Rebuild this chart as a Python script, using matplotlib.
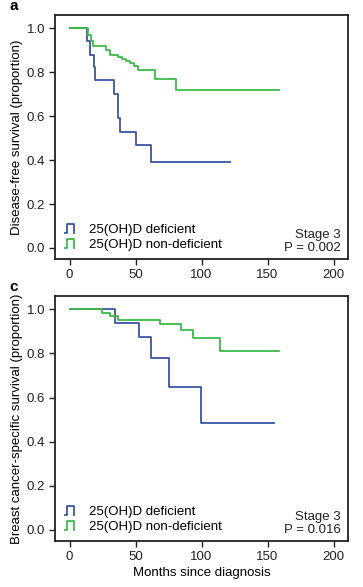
import numpy as np
import matplotlib
matplotlib.use('Agg')
import matplotlib.pyplot as plt
from matplotlib.lines import Line2D
from matplotlib.legend_handler import HandlerBase

plt.rcParams['font.family'] = ['Liberation Sans', 'DejaVu Sans']

BLUE = '#3c55a5'
GREEN = '#3dba4a'

# panel a: disease-free survival (step times in months, survival after step)
a_def_t = [0, 13.2, 15.7, 18.4, 19.5, 34, 36.7, 38, 50.7, 62, 121.7]
a_def_s = [1.0, 0.94, 0.88, 0.825, 0.765, 0.70, 0.59, 0.527, 0.47, 0.39, 0.39]
a_non_t = [0, 14, 16, 18, 28, 31, 37, 40, 43, 46, 49, 52, 65, 81, 158.5]
a_non_s = [1.0, 0.97, 0.94, 0.92, 0.90, 0.88, 0.87, 0.86, 0.85, 0.84, 0.83, 0.81, 0.77, 0.72, 0.72]

# panel c: breast cancer-specific survival
c_def_t = [0, 34.2, 52.7, 62, 75.3, 99.4, 154.6]
c_def_s = [1.0, 0.94, 0.874, 0.777, 0.649, 0.486, 0.486]
c_non_t = [0, 24.8, 30.4, 36.7, 68.4, 84.2, 93.3, 114, 158.5]
c_non_s = [1.0, 0.983, 0.968, 0.953, 0.935, 0.908, 0.871, 0.809, 0.809]

legend_labels = ['25(OH)D deficient', '25(OH)D non-deficient']
x_ticks = [0, 50, 100, 150, 200]
y_ticks = [0.0, 0.2, 0.4, 0.6, 0.8, 1.0]

FS = 9.5


class StepHandler(HandlerBase):
    # little step glyph like the R legend
    def create_artists(self, legend, orig_handle, x0, y0, width, height, fontsize, trans):
        xa, xb, xc = x0 + width * 0.22, x0 + width * 0.32, x0 + width * 0.58
        xs = [xa, xb, xb, xc, xc]
        ys = [y0, y0, y0 + height * 0.95, y0 + height * 0.95, y0]
        ln = Line2D(xs, ys, color=orig_handle.get_color(), lw=1.3, transform=trans)
        return [ln]


def draw_panel(ax, letter, ylabel, d_t, d_s, n_t, n_s, pval, show_xlabel):
    ax.step(d_t, d_s, where='post', color=BLUE, lw=1.3)
    ax.step(n_t, n_s, where='post', color=GREEN, lw=1.3)
    ax.set_xlim(-11, 211)
    ax.set_ylim(-0.05, 1.06)
    ax.set_xticks(x_ticks)
    ax.set_yticks(y_ticks)
    ax.set_yticklabels(['%.1f' % v for v in y_ticks])
    ax.tick_params(direction='out', length=4, width=1, labelsize=FS, colors='#222222', pad=3)
    for sp in ax.spines.values():
        sp.set_linewidth(1.3)
        sp.set_color('#222222')
    ax.set_ylabel(ylabel, fontsize=FS, labelpad=3)
    if show_xlabel:
        ax.set_xlabel('Months since diagnosis', fontsize=FS, labelpad=3)
    handles = [Line2D([], [], color=BLUE), Line2D([], [], color=GREEN)]
    ax.legend(handles, legend_labels, loc='lower left', frameon=False, fontsize=FS,
              handler_map={Line2D: StepHandler()}, handlelength=2.0, handletextpad=0.25,
              labelspacing=0.2, borderaxespad=0.0, borderpad=0.3, bbox_to_anchor=(0.0, 0.016))
    ax.text(0.975, 0.022, 'Stage 3\nP = ' + pval, transform=ax.transAxes, ha='right', va='bottom',
            fontsize=FS, linespacing=1.05, color='#222222')
    ax.text(-0.155, 1.01, letter, transform=ax.transAxes, fontsize=11, fontweight='bold',
            ha='left', va='bottom')


fig = plt.figure(figsize=(3.63, 5.87), dpi=100)
ax1 = fig.add_axes([0.1515, 0.5588, 0.8075, 0.4156])
ax2 = fig.add_axes([0.1515, 0.0784, 0.8075, 0.4173])

draw_panel(ax1, 'a', 'Disease-free survival (proportion)', a_def_t, a_def_s, a_non_t, a_non_s, '0.002', False)
draw_panel(ax2, 'c', 'Breast cancer-specific survival (proportion)', c_def_t, c_def_s, c_non_t, c_non_s, '0.016', True)

fig.savefig('out.png', dpi=100)
